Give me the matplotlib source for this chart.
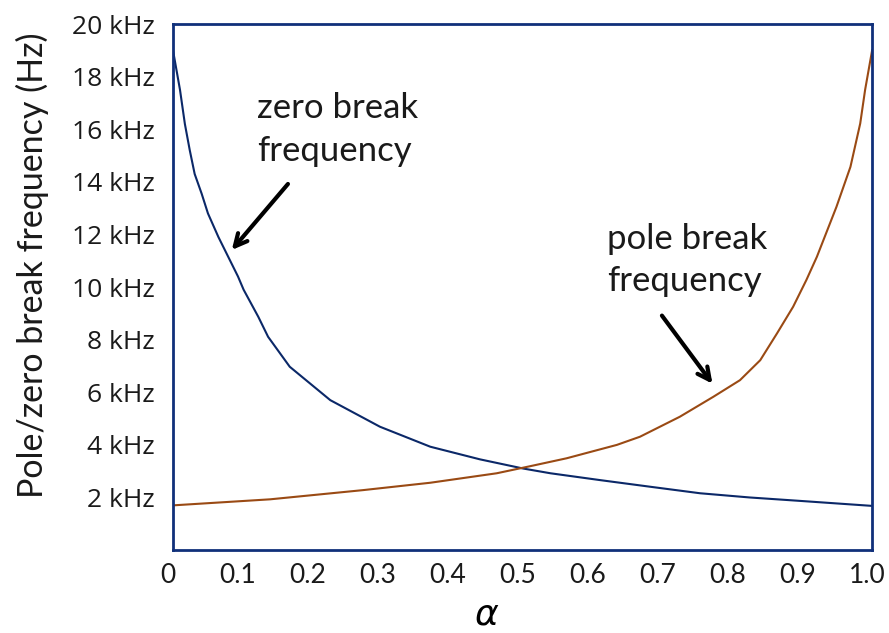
import numpy as np
import matplotlib.pyplot as plt
from matplotlib.transforms import ScaledTranslation

# alpha values and break frequencies (kHz)
alpha_zero = [0, 0.010, 0.017, 0.024, 0.031, 0.041, 0.05, 0.065, 0.079, 0.093,
              0.101, 0.122, 0.136, 0.167, 0.225, 0.296, 0.368, 0.439, 0.501,
              0.54, 0.611, 0.682, 0.754, 0.825, 0.897, 1.0]
f_zero = [19.0, 17.5, 16.2, 15.2, 14.3, 13.55, 12.8, 11.9, 11.15, 10.4,
          9.9, 8.87, 8.11, 6.97, 5.70, 4.69, 3.93, 3.45, 3.1,
          2.92, 2.66, 2.41, 2.16, 2.0, 1.87, 1.68]

alpha_pole = [0, 0.139, 0.272, 0.368, 0.463, 0.511, 0.563, 0.635, 0.668, 0.725,
              0.773, 0.811, 0.84, 0.864, 0.887, 0.906, 0.921, 0.949, 0.969,
              0.983, 0.990, 1.0]
f_pole = [1.7, 1.93, 2.28, 2.56, 2.92, 3.19, 3.49, 4.0, 4.31, 5.07,
          5.83, 6.46, 7.22, 8.24, 9.25, 10.27, 11.15, 13.05, 14.57,
          16.22, 17.5, 19.0]

xticks = [0, 0.1, 0.2, 0.3, 0.4, 0.5, 0.6, 0.7, 0.8, 0.9, 1.0]
xlabels = ['0', '0.1', '0.2', '0.3', '0.4', '0.5', '0.6', '0.7', '0.8', '0.9', '1.0']
yticks = [2, 4, 6, 8, 10, 12, 14, 16, 18, 20]
ylabels = [f'{v} kHz' for v in yticks]

navy = '#0b2868'
brown = '#9a4a14'
txt = '#1a1a1a'

fig = plt.figure(figsize=(8.89, 6.33), dpi=100)
ax = fig.add_axes([0.1946, 0.131, 0.7864, 0.831])

ax.plot(alpha_zero, f_zero, color=navy, lw=1.5)
ax.plot(alpha_pole, f_pole, color=brown, lw=1.5)

ax.set_xlim(0, 1)
ax.set_ylim(0, 20)
for s in ax.spines.values():
    s.set_color('#10307a')
    s.set_linewidth(2)

ax.set_xticks(xticks)
ax.set_xticklabels(xlabels, family='Lato', fontsize=19, color=txt)
ax.set_yticks(yticks)
ax.set_yticklabels(ylabels, family='Open Sans', fontsize=19, color=txt)
ax.tick_params(axis='x', length=0, pad=9)
ax.tick_params(axis='y', length=0, pad=13)

# x labels sit a little left of their ticks in the original
shift = ScaledTranslation(-0.05, 0, fig.dpi_scale_trans)
for lab in ax.get_xticklabels():
    lab.set_transform(lab.get_transform() + shift)

ax.set_xlabel(r'$\alpha$', fontsize=26)
ax.xaxis.set_label_coords(0.449, -0.09)
ax.set_ylabel('Pole/zero break frequency (Hz)', family='Lato',
              fontsize=24.5, color=txt)
ax.yaxis.set_label_coords(-0.178, 0.542)

ax.text(0.12, 17.4, 'zero break\nfrequency', family='Lato',
        fontsize=25, va='top', ha='left', linespacing=1.4, color=txt)
ax.text(0.621, 12.45, 'pole break\nfrequency', family='Lato',
        fontsize=25, va='top', ha='left', linespacing=1.4, color=txt)

ax.annotate('', xy=(0.0815, 11.33), xytext=(0.167, 14.0),
            arrowprops=dict(arrowstyle='->', lw=3, color='black',
                            mutation_scale=22))
ax.annotate('', xy=(0.774, 6.24), xytext=(0.697, 9.0),
            arrowprops=dict(arrowstyle='->', lw=3, color='black',
                            mutation_scale=22))

fig.savefig('out.png', dpi=100)
